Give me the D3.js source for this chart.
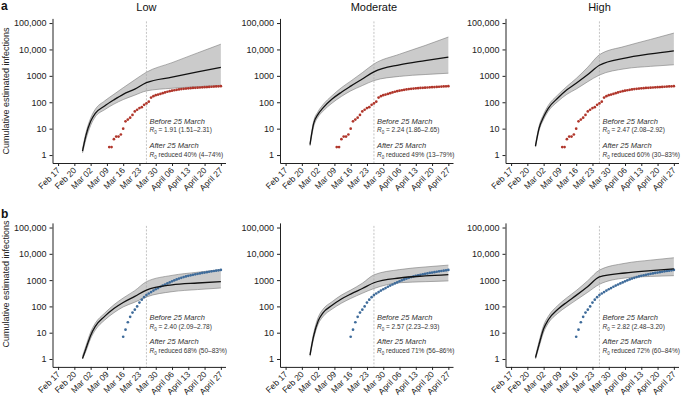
<!DOCTYPE html>
<html><head><meta charset="utf-8">
<script src="https://cdn.jsdelivr.net/npm/d3@7"></script>
<style>
body{margin:0;background:#fff;}
text{font-family:"Liberation Sans",Arial,sans-serif;}
</style></head>
<body><svg id="c" width="685" height="397"></svg>
<script>
// ---------- data ----------
const scenarios = ["Low", "Moderate", "High"];
const rowLetters = ["a", "b"];
const tickDays = [0, 7, 14, 21, 28, 35, 42, 49, 56, 63, 70];
const tickLabels = ["Feb 17", "Feb 20", "Mar 02", "Mar 09", "Mar 16", "Mar 23", "Mar 30", "April 06", "April 13", "April 20", "April 27"];
const yTicks = [1, 10, 100, 1000, 10000, 100000];
const yTickLabels = ["1", "10", "100", "1000", "10,000", "100,000"];
const interventionDay = 38;

const modelDays = [10.5, 12, 14, 16, 20, 24, 28, 33, 38, 49, 60, 70];
// row a
const aLowMid = [1.4, 5.6, 19, 38, 72, 123, 200, 316, 550, 890, 1410, 2090];
const aLowUp = [1.7, 7.1, 25, 54, 112, 200, 355, 708, 1380, 3160, 7410, 15850];
const aLowLo = [1.2, 4.0, 13.2, 28, 52, 85, 126, 186, 269, 339, 389, 437];
const aModMid = [2.5, 14.8, 35.5, 60, 132, 240, 407, 759, 1413, 2630, 3800, 5130];
const aModUp = [2.8, 17.8, 44.7, 79, 178, 355, 631, 1318, 2818, 6607, 14125, 29512];
const aModLo = [2.2, 11.2, 28, 45, 93, 166, 269, 427, 661, 955, 1122, 1259];
const aHighMid = [2.2, 10, 28, 59, 141, 295, 525, 1122, 2512, 4677, 6761, 8913];
const aHighUp = [2.5, 12, 35.5, 76, 186, 398, 794, 2138, 6310, 13183, 23988, 41687];
const aHighLo = [2.0, 8.3, 22.4, 45.7, 105, 200, 316, 603, 1072, 1862, 2291, 2630];
// row b
const bLowMid = [1.05, 2.5, 7.9, 17.4, 41.7, 83, 141, 240, 417, 661, 776, 871];
const bLowUp = [1.26, 3.2, 10.5, 22.9, 55, 115, 209, 398, 871, 1514, 1995, 2512];
const bLowLo = [1.0, 2.0, 6.0, 12.6, 30, 57.5, 95.5, 145, 229, 363, 437, 501];
const bModMid = [1.4, 7.1, 28, 56, 110, 191, 295, 479, 794, 1202, 1445, 1622];
const bModUp = [1.6, 8.9, 38, 76, 151, 269, 417, 759, 1585, 2512, 3162, 3715];
const bModLo = [1.26, 5.6, 21, 40, 79, 132, 200, 316, 479, 794, 871, 933];
const bHighMid = [1.12, 3.5, 14.1, 31, 76, 145, 263, 575, 1318, 1862, 2291, 2692];
const bHighUp = [1.26, 4.5, 19, 42, 107, 214, 398, 955, 2399, 4365, 5754, 7079];
const bHighLo = [1.0, 2.8, 10.5, 23, 54, 100, 174, 347, 692, 1202, 1380, 1479];

// observed (row a, red) days 22..70
const obsAStart = 22;
const obsA = [2, 2, 4, 5, 5, 6, 10, 19, 22, 26, 33, 45, 52, 60, 65, 80, 90, 105, 150, 170, 185, 195, 207, 220, 235, 250, 262, 275, 285, 295, 305, 315, 322, 330, 336, 342, 348, 352, 357, 362, 367, 372, 377, 382, 387, 392, 397, 402, 408];
// observed (row b, blue) days 28..70
const obsBStart = 28;
const obsB = [7, 13, 25, 40, 58, 75, 100, 140, 180, 225, 270, 310, 350, 400, 450, 500, 560, 620, 680, 750, 820, 900, 980, 1060, 1140, 1220, 1300, 1380, 1450, 1520, 1590, 1660, 1730, 1800, 1870, 1940, 2010, 2080, 2150, 2220, 2290, 2360, 2430];

const r0A = ["1.91 (1.51–2.31)", "2.24 (1.86–2.65)", "2.47 (2.08–2.92)"];
const redA = ["40% (4–74%)", "49% (13–79%)", "60% (30–83%)"];
const r0B = ["2.40 (2.09–2.78)", "2.57 (2.23–2.93)", "2.82 (2.48–3.20)"];
const redB = ["68% (50–83%)", "71% (56–86%)", "72% (60–84%)"];

// ---------- layout ----------
const colX = [52.5, 280, 505.5];
const panelW = 173;
const rowsLayout = [
  {bottom: 163, top: 18.4, ann: [-31.5, -23.3, -7.3, 1.7], color: "#b0362b"},
  {bottom: 366.9, top: 222.9, ann: [-39, -30, -15, -6], color: "#3e6b9a"}
];
const models = [
  [[aLowMid, aLowUp, aLowLo], [aModMid, aModUp, aModLo], [aHighMid, aHighUp, aHighLo]],
  [[bLowMid, bLowUp, bLowLo], [bModMid, bModUp, bModLo], [bHighMid, bHighUp, bHighLo]]
];
const observed = [
  obsA.map((v, i) => ({d: obsAStart + i, v})),
  obsB.map((v, i) => ({d: obsBStart + i, v}))
];
const r0s = [r0A, r0B], reds = [redA, redB];

const svg = d3.select("#c");
const axisColor = "#222";

rowsLayout.forEach((row, ri) => {
  scenarios.forEach((sc, ci) => {
    const x0 = colX[ci];
    const x = d3.scaleLinear().domain([-2.4, 72]).range([x0, x0 + panelW]);
    const y = d3.scaleLog().domain([0.5, 150000]).range([row.bottom, row.top]);
    const g = svg.append("g");
    const [mid, up, lo] = models[ri][ci];
    const pts = modelDays.map((d, i) => ({d, m: mid[i], u: up[i], l: lo[i]}));

    // band
    g.append("path").datum(pts)
      .attr("d", d3.area().curve(d3.curveMonotoneX).x(p => x(p.d)).y0(p => y(p.l)).y1(p => y(p.u)))
      .attr("fill", "#cbcbcb").attr("stroke", "none");
    ["u", "l"].forEach(k => {
      g.append("path").datum(pts)
        .attr("d", d3.line().curve(d3.curveMonotoneX).x(p => x(p.d)).y(p => y(p[k])))
        .attr("fill", "none").attr("stroke", "#7a7a7a").attr("stroke-width", 0.6);
    });

    // dashed line
    g.append("line")
      .attr("x1", x(interventionDay)).attr("x2", x(interventionDay))
      .attr("y1", row.top + 3).attr("y2", row.bottom)
      .attr("stroke", "#aaa").attr("stroke-width", 0.7).attr("stroke-dasharray", "2,1.5");

    // observed points
    g.selectAll("circle.o").data(observed[ri]).enter().append("circle")
      .attr("cx", p => x(p.d)).attr("cy", p => y(p.v)).attr("r", 1.35)
      .attr("fill", row.color);

    // model line
    g.append("path").datum(pts)
      .attr("d", d3.line().curve(d3.curveMonotoneX).x(p => x(p.d)).y(p => y(p.m)))
      .attr("fill", "none").attr("stroke", "#111").attr("stroke-width", 1.3);

    // axes
    const ax = d3.axisLeft(y).tickValues(yTicks).tickFormat((d, i) => yTickLabels[i]).tickSize(3).tickPadding(3).tickSizeOuter(0);
    const ga = g.append("g").attr("transform", `translate(${x0},0)`).call(ax);
    ga.selectAll("text").attr("font-size", 9).attr("fill", "#222");
    ga.selectAll("line,path").attr("stroke", axisColor);

    const bx = d3.axisBottom(x).tickValues(tickDays).tickFormat((d, i) => tickLabels[i]).tickSize(3).tickSizeOuter(0);
    const gb = g.append("g").attr("transform", `translate(0,${row.bottom})`).call(bx);
    gb.selectAll("line,path").attr("stroke", axisColor);
    gb.selectAll("text").attr("font-size", 8.5).attr("fill", "#222")
      .attr("text-anchor", "end").attr("dy", 0).attr("y", 0)
      .attr("transform", "translate(2,8) rotate(-45)");

    // annotations
    const ax0 = x(interventionDay) + 3;
    const base = y(1);
    const fs = 7.5;
    const squeeze = 0.87;
    g.append("text").attr("x", ax0).attr("y", base + row.ann[0]).attr("font-size", fs).attr("font-style", "italic").attr("fill", "#333").text("Before 25 March");
    const t2 = g.append("text").attr("transform", `translate(${ax0},${base + row.ann[1]}) scale(${squeeze},1)`).attr("font-size", fs).attr("fill", "#333");
    t2.append("tspan").attr("font-style", "italic").text("R");
    t2.append("tspan").attr("font-size", 5.2).attr("dy", 1.8).text("0");
    t2.append("tspan").attr("dy", -1.8).text(" = " + r0s[ri][ci]);
    g.append("text").attr("x", ax0).attr("y", base + row.ann[2]).attr("font-size", fs).attr("font-style", "italic").attr("fill", "#333").text("After 25 March");
    const t4 = g.append("text").attr("transform", `translate(${ax0},${base + row.ann[3]}) scale(${squeeze},1)`).attr("font-size", fs).attr("fill", "#333");
    t4.append("tspan").attr("font-style", "italic").text("R");
    t4.append("tspan").attr("font-size", 5.2).attr("dy", 1.8).text("0");
    t4.append("tspan").attr("dy", -1.8).text(" reduced " + reds[ri][ci]);

    if (ri === 0) {
      svg.append("text").attr("x", x(interventionDay)).attr("y", 11).attr("text-anchor", "middle")
        .attr("font-size", 11).attr("fill", "#111").text(sc);
    }
  });
  // row letter and y label
  svg.append("text").attr("x", 1).attr("y", ri === 0 ? 10 : 218).attr("font-size", 12).attr("font-weight", "bold").attr("fill", "#111").text(rowLetters[ri]);
  const cy = ri === 0 ? 91 : 284;
  svg.append("text").attr("transform", `translate(8.5,${cy}) rotate(-90)`).attr("text-anchor", "middle")
    .attr("font-size", 9).attr("fill", "#222").text("Cumulative estimated infections");
});
</script></body></html>
